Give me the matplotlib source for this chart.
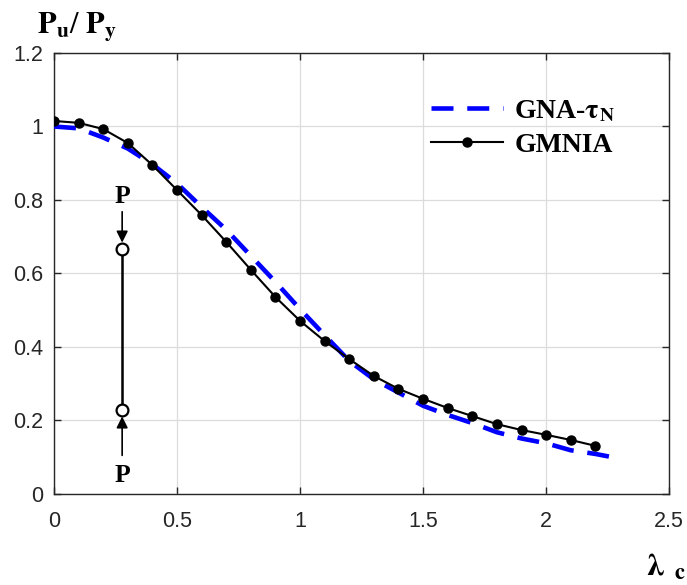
import matplotlib
matplotlib.use("Agg")
import matplotlib.pyplot as plt
from matplotlib.font_manager import FontProperties

gmnia_x = [0.0, 0.1, 0.2, 0.3, 0.4, 0.5, 0.6, 0.7, 0.8, 0.9, 1.0, 1.1,
           1.2, 1.3, 1.4, 1.5, 1.6, 1.7, 1.8, 1.9, 2.0, 2.1, 2.2]
gmnia_y = [1.015, 1.010, 0.993, 0.955, 0.895, 0.827, 0.759, 0.686, 0.610, 0.536,
           0.471, 0.416, 0.367, 0.321, 0.286, 0.259, 0.234, 0.212, 0.190, 0.174,
           0.161, 0.147, 0.131]

gna_x = [0.0, 0.1, 0.2, 0.3, 0.4, 0.5, 0.6, 0.7, 0.8, 0.9, 1.0, 1.1,
         1.2, 1.3, 1.4, 1.5, 1.6, 1.7, 1.8, 1.9, 2.0, 2.1, 2.2, 2.27]
gna_y = [1.000, 0.995, 0.970, 0.940, 0.897, 0.845, 0.781, 0.719, 0.648, 0.577,
         0.503, 0.432, 0.362, 0.312, 0.276, 0.240, 0.215, 0.193, 0.168, 0.151,
         0.138, 0.119, 0.109, 0.100]

xticks = [0, 0.5, 1, 1.5, 2, 2.5]
xticklabels = ["0", "0.5", "1", "1.5", "2", "2.5"]
yticks = [0, 0.2, 0.4, 0.6, 0.8, 1.0, 1.2]
yticklabels = ["0", "0.2", "0.4", "0.6", "0.8", "1", "1.2"]

col_x = 0.277
col_top = 0.667
col_bot = 0.228

fig = plt.figure(figsize=(6.87, 5.85), dpi=100)
ax = fig.add_axes([0.0786, 0.1556, 0.8954, 0.7538])

ax.plot(gna_x, gna_y, color="#0000ff", lw=3.3, linestyle=(0, (4.8, 3.0)),
        label=r"GNA-$\mathbf{\tau_N}$", zorder=3)
ax.plot(gmnia_x, gmnia_y, color="black", lw=1.5, marker="o", ms=6.5,
        label="GMNIA", zorder=4)

# column sketch
ax.plot([col_x, col_x], [col_bot, col_top], color="black", lw=1.8, zorder=3)
ax.plot([col_x, col_x], [col_bot, col_top], ls="none", marker="o", ms=8.5,
        mfc="white", mec="black", mew=1.6, zorder=5)
ax.annotate("", xy=(col_x, col_top + 0.017), xytext=(col_x, 0.768),
            arrowprops=dict(arrowstyle="-|>", color="black", lw=1.2,
                            mutation_scale=17, shrinkA=0, shrinkB=0))
ax.annotate("", xy=(col_x, col_bot - 0.017), xytext=(col_x, 0.105),
            arrowprops=dict(arrowstyle="-|>", color="black", lw=1.2,
                            mutation_scale=17, shrinkA=0, shrinkB=0))
ax.text(col_x, 0.81, "P", ha="center", va="center", fontsize=18.5,
        fontweight="bold", family="Liberation Serif")
ax.text(col_x, 0.05, "P", ha="center", va="center", fontsize=18.5,
        fontweight="bold", family="Liberation Serif")

ax.set_xlim(0, 2.5)
ax.set_ylim(0, 1.2)
ax.set_xticks(xticks)
ax.set_xticklabels(xticklabels)
ax.set_yticks(yticks)
ax.set_yticklabels(yticklabels)
ax.grid(True, color="#dcdcdc", lw=0.9)
ax.set_axisbelow(True)
for s in ax.spines.values():
    s.set_color("#262626")
    s.set_linewidth(1.0)
ax.tick_params(direction="in", length=5, width=1.0, color="#262626",
               top=True, right=True, labelsize=15.5, labelcolor="#262626")
ax.tick_params(axis="x", pad=12)
ax.tick_params(axis="y", pad=8)
for lab in ax.get_xticklabels() + ax.get_yticklabels():
    lab.set_family("Liberation Sans")

legprop = FontProperties(family="Liberation Serif", weight="bold", size=20,
                         math_fontfamily="stix")
leg = ax.legend(loc="upper left", bbox_to_anchor=(0.613, 0.897), frameon=False,
                prop=legprop, borderaxespad=0, borderpad=0,
                handlelength=2.6, handletextpad=0.4, labelspacing=0.3)

fig.text(0.054, 0.954, r"$\mathbf{P_u}$/ $\mathbf{P_y}$", fontsize=22,
         fontweight="bold", family="Liberation Serif", ha="left", va="center",
         math_fontfamily="stix")
fig.text(0.998, 0.03, r"$\mathbf{\lambda}$ $\mathbf{_c}$", fontsize=23,
         ha="right", va="center", math_fontfamily="stix")

fig.savefig("out.png", dpi=100)
